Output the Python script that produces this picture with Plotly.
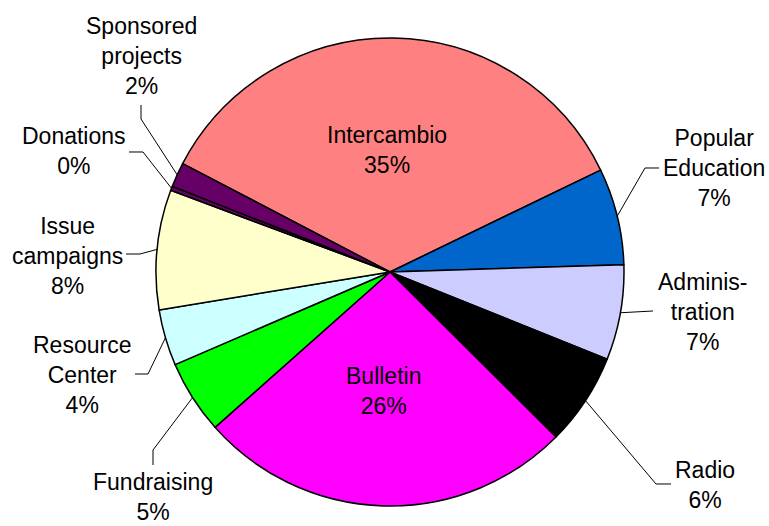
import math
import plotly.graph_objects as go

# ---------------- data ----------------
categories = ["Intercambio", "Popular Education", "Administration", "Radio", "Bulletin",
              "Fundraising", "Resource Center", "Issue campaigns", "Donations", "Sponsored projects"]
values = [35.3, 6.7, 6.6, 6.4, 26.1, 5.1, 3.9, 8.3, 0.3, 1.7]
label_lines = ["Intercambio", "Popular<br>Education", "Adminis-<br>tration", "Radio", "Bulletin",
               "Fundraising", "Resource<br>Center", "Issue<br>campaigns", "Donations", "Sponsored<br>projects"]

# ---------------- style / layout ----------------
colors = ["#FF8080", "#0066CC", "#CCCCFF", "#000000", "#FF00FF",
          "#00FF00", "#CCFFFF", "#FFFFCC", "#660066", "#660066"]
W, H = 769, 526              # figure size
CX, CY, R = 390, 272, 234    # pie geometry in pixels
START_ANGLE = -62.4          # degrees clockwise from 12 o'clock
FONT = dict(family="Liberation Sans, Arial, sans-serif", size=23, color="black")

# label placement in pixels: inside labels use a radial fraction, outside use centre + leader path
label_layout = {
    "Intercambio": {"inside": 0.52, "dx": -5},
    "Bulletin": {"inside": 0.51, "dx": -3},
    "Popular Education": {"center": (714, 168), "path": [(645, 168), (659, 168)]},
    "Administration": {"center": (702, 312), "path": [(653, 311)]},
    "Radio": {"center": (705, 485), "path": [(656, 484), (671, 484)]},
    "Fundraising": {"center": (153, 497), "path": [(153, 450), (153, 465)]},
    "Resource Center": {"center": (82, 375), "path": [(148, 374), (135, 374)]},
    "Issue campaigns": {"center": (67, 256), "path": [(140, 254), (126, 254)]},
    "Donations": {"center": (74, 151), "path": [(143, 152), (129, 152)]},
    "Sponsored projects": {"center": (141, 56), "path": [(141, 119), (141, 105)]},
}


def px(x):
    return x / W


def py(y):
    return 1 - y / H


total = sum(values)
fig = go.Figure(go.Pie(
    labels=categories,
    values=values,
    sort=False,
    direction="clockwise",
    rotation=START_ANGLE,
    marker=dict(colors=colors, line=dict(color="black", width=1.5)),
    textinfo="none",
    hoverinfo="label+percent",
    showlegend=False,
    domain=dict(x=[px(CX - R), px(CX + R)], y=[py(CY + R), py(CY - R)]),
))

annotations = []
shapes = []
cum = 0.0
for cat, val, txt in zip(categories, values, label_lines):
    mid = START_ANGLE + (cum + val / 2) / total * 360
    cum += val
    a = math.radians(mid)
    pct = round(val / total * 100)
    text = f"{txt}<br>{pct}%"
    spec = label_layout[cat]
    if "inside" in spec:
        f = spec["inside"]
        lx, ly = CX + f * R * math.sin(a) + spec.get("dx", 0), CY - f * R * math.cos(a)
    else:
        lx, ly = spec["center"]
        pts = [(CX + R * math.sin(a), CY - R * math.cos(a))] + spec["path"]
        d = "M " + " L ".join(f"{px(x):.5f},{py(y):.5f}" for x, y in pts)
        shapes.append(dict(type="path", path=d, xref="paper", yref="paper",
                           line=dict(color="black", width=1)))
    annotations.append(dict(x=px(lx), y=py(ly), xref="paper", yref="paper",
                            text=text, showarrow=False, xanchor="center", yanchor="middle",
                            font=FONT, align="center"))

fig.update_layout(
    width=W, height=H,
    margin=dict(l=0, r=0, t=0, b=0),
    paper_bgcolor="white", plot_bgcolor="white",
    annotations=annotations, shapes=shapes,
)
fig.write_html(
    "out.html",
    config={"displayModeBar": False},
    post_script="document.body.style.margin='0';document.body.style.overflow='hidden';",
)
